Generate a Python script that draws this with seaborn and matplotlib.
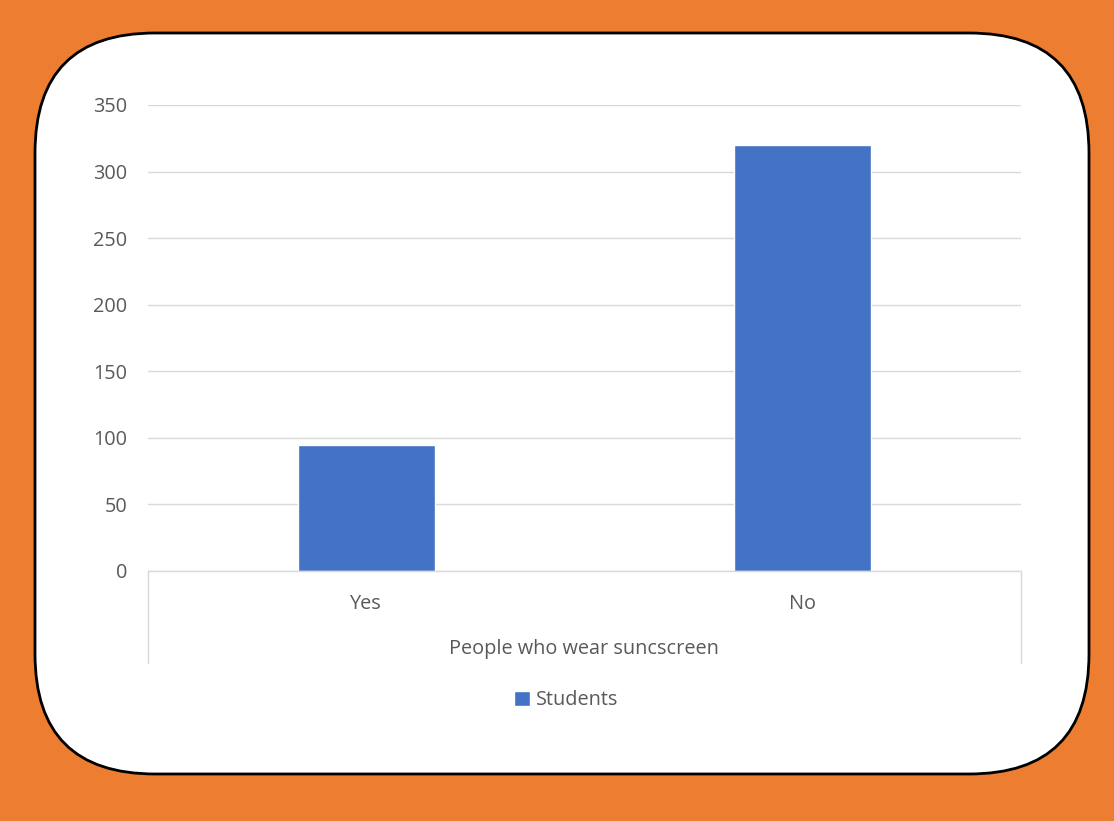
import matplotlib
matplotlib.use("Agg")
import matplotlib.pyplot as plt
import matplotlib.patches as mpatches
from matplotlib.lines import Line2D
import seaborn as sns
import pandas as pd

categories = ["Yes", "No"]
students = [95, 320]
series_name = "Students"
y_ticks = [0, 50, 100, 150, 200, 250, 300, 350]
x_title = "People who wear suncscreen"

sns.set_theme(style="white")
plt.rcParams['font.family'] = ['Open Sans', 'DejaVu Sans']

FS = 14.3
TXT = "#595959"
W, H = 1114, 821
fig = plt.figure(figsize=(W / 100, H / 100), dpi=100, facecolor="#ED7D31")

# white rounded panel (inches)
panel = mpatches.FancyBboxPatch((0.35 + 1.2, 0.47 + 1.2), 10.54 - 2.4, 7.41 - 2.4,
                                boxstyle="round,pad=1.2",
                                transform=fig.dpi_scale_trans,
                                facecolor="white", edgecolor="black", linewidth=2,
                                zorder=-10)
fig.patches.append(panel)

def fx(px):
    return px / W

def fy(py):
    return 1 - py / H

ax = fig.add_axes([fx(148), fy(571), fx(1021) - fx(148), fy(105) - fy(571)])
ax.set_facecolor("none")
ax.set_zorder(5)

df = pd.DataFrame({"Category": categories, "Value": students, "Series": series_name})
sns.barplot(data=df, x="Category", y="Value", hue="Series", palette=["#4472C4"],
            width=0.314, ax=ax, legend=True, saturation=1)

ax.set_ylim(0, 350)
ax.set_xlim(-0.5, 1.5)
ax.set_yticks(y_ticks)
ax.yaxis.grid(True, color="#D9D9D9", linewidth=1)
ax.set_axisbelow(True)
for s in ["left", "right", "top"]:
    ax.spines[s].set_visible(False)
ax.spines["bottom"].set_color("#D9D9D9")
ax.spines["bottom"].set_linewidth(1)
ax.tick_params(axis="y", length=0, pad=15, labelsize=FS, labelcolor=TXT)
ax.tick_params(axis="x", length=0, pad=16.5, labelsize=FS, labelcolor=TXT)
ax.set_xlabel("")
ax.set_ylabel("")

# category axis frame lines
for xp in (148, 1021):
    fig.add_artist(Line2D([fx(xp), fx(xp)], [fy(571), fy(663)], color="#D9D9D9",
                          linewidth=1, transform=fig.transFigure))

fig.text(fx(584), fy(649), x_title, ha="center", va="center", fontsize=FS, color=TXT)

leg = ax.legend(loc="center", bbox_to_anchor=(fx(566), fy(700)), bbox_transform=fig.transFigure,
                frameon=False, fontsize=FS, handlelength=0.8, handleheight=0.8,
                handletextpad=0.3, labelcolor=TXT)

fig.savefig("out.png", dpi=100, facecolor=fig.get_facecolor())
